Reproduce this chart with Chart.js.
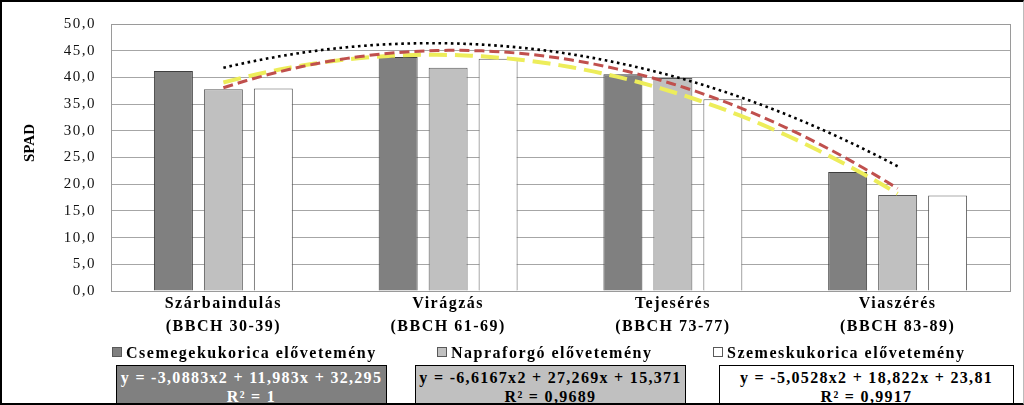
<!DOCTYPE html>
<html>
<head>
<meta charset="utf-8">
<script src="https://cdn.jsdelivr.net/npm/chart.js@4/dist/chart.umd.min.js"></script>
<style>
  html, body { margin:0; padding:0; background:#fff; }
  body { width:1024px; height:405px; overflow:hidden; position:relative; font-family:"Liberation Serif","Times New Roman",serif; }
  .layer { position:absolute; left:0; top:0; width:1024px; height:405px; }
  #frame { position:absolute; left:0; top:0; width:1024px; height:405px; box-sizing:border-box;
           border-left:2px solid #000; border-top:2px solid #000; border-bottom:2px solid #000; border-right:1px solid #bbb;
           pointer-events:none; z-index:10; }
  #ytitle { position:absolute; left:-1px; top:134px; width:60px; height:18px; line-height:18px; text-align:center;
            font-weight:bold; font-size:15px; color:#000; transform:rotate(-90deg); transform-origin:50% 50%; }
  .leg { position:absolute; top:343px; height:20px; font-weight:bold; font-size:16px; letter-spacing:1.5px; line-height:20px; color:#000; white-space:nowrap; }
  .leg i { display:inline-block; width:8px; height:8px; border:1px solid #595959; margin-right:4px; vertical-align:1px; }
  .eq { position:absolute; top:365px; height:50px; box-sizing:border-box; border:1.5px solid #000; text-align:center;
        font-weight:bold; font-size:16px; letter-spacing:1.3px; line-height:19px; padding-top:2px; white-space:nowrap; }
</style>
</head>
<body>
<div class="layer"><canvas id="c" width="1024" height="405"></canvas></div>
<div class="layer"><canvas id="t" width="1024" height="405"></canvas></div>
<div id="ytitle"></div>
<div id="legend"></div>
<div id="frame"></div>
<script>
// ---- data ----
const categories = [["Szárbaindulás","(BBCH 30-39)"],["Virágzás","(BBCH 61-69)"],["Tejesérés","(BBCH 73-77)"],["Viaszérés","(BBCH 83-89)"]];
const seriesNames = ["Csemegekukorica elővetemény","Napraforgó elővetemény","Szemeskukorica elővetemény"];
const csemege = [41.2, 43.8, 40.6, 22.3];
const napraforgo = [37.8, 41.8, 39.9, 18.0];
const szemes = [37.9, 43.5, 35.9, 17.9];
const equations = [["y = -3,0883x2 + 11,983x + 32,295","R² = 1"],["y = -6,6167x2 + 27,269x + 15,371","R² = 0,9689"],["y = -5,0528x2 + 18,822x + 23,81","R² = 0,9917"]];
const yTitle = "SPAD";
const yTicks = { min:0, max:50, step:5 };

// ---- styles ----
const barFill = ["#808080","#c0c0c0","#ffffff"];
const barBorder = ["#3f3f3f","#595959","#595959"];
const trendStyle = [
  { color:"#000000", width:2.6, dash:[2.6,3.6] },
  { color:"#c0504d", width:3, dash:[10,5] },
  { color:"#eded5a", width:4, dash:[18,8] }
];
const AREA = { left:111, top:17, right:14, bottom:114 };

// quadratic least-squares trendline (as the spreadsheet trendline does), x = 1..n
function quadFit(ys){
  const n = ys.length; let S=[0,0,0,0,0], T=[0,0,0];
  for(let i=0;i<n;i++){ const x=i+1, y=ys[i];
    for(let k=0;k<5;k++) S[k]+=Math.pow(x,k);
    for(let k=0;k<3;k++) T[k]+=y*Math.pow(x,k); }
  const M=[[S[4],S[3],S[2],T[2]],[S[3],S[2],S[1],T[1]],[S[2],S[1],S[0],T[0]]];
  for(let i=0;i<3;i++){ for(let j=i+1;j<3;j++){ const f=M[j][i]/M[i][i]; for(let k=i;k<4;k++) M[j][k]-=f*M[i][k]; } }
  const r=[0,0,0];
  for(let i=2;i>=0;i--){ let s=M[i][3]; for(let k=i+1;k<3;k++) s-=M[i][k]*r[k]; r[i]=s/M[i][i]; }
  return r;
}
function trendPoints(ys){
  const [a,b,c]=quadFit(ys); const pts=[];
  for(let x=1;x<=ys.length+1e-9;x+=0.05){ pts.push({x:x, y:a*x*x+b*x+c}); }
  return pts;
}

const allSeries = [csemege, napraforgo, szemes];

const frame = { id:'frame', beforeDatasetsDraw(chart){ const a=chart.chartArea, ctx=chart.ctx;
  ctx.save(); ctx.strokeStyle='#9a9a9a'; ctx.lineWidth=1; ctx.strokeRect(Math.round(a.left)+0.5, Math.round(a.top)+0.5, Math.round(a.right-a.left), Math.round(a.bottom-a.top)); ctx.restore(); } };
const spacing = { id:'spacing',
  beforeLayout(chart){ chart.ctx.letterSpacing='1.5px'; },
  beforeDraw(chart){ chart.ctx.letterSpacing='1.5px'; } };

// bar chart
new Chart(document.getElementById('c'), {
  type:'bar',
  data:{ labels:categories, datasets: allSeries.map((vals,i)=>({
    label:seriesNames[i], data:vals, backgroundColor:barFill[i], borderColor:barBorder[i],
    borderWidth:1, categoryPercentage:0.667, barPercentage:0.78 })) },
  options:{
    responsive:false, animation:false, devicePixelRatio:1,
    layout:{ padding:{ left:0, top:AREA.top, right:AREA.right, bottom:0 }, autoPadding:false },
    plugins:{ legend:{ display:false }, tooltip:{ enabled:false } },
    scales:{
      x:{ type:'category', offset:true,
          grid:{ display:false, drawTicks:false }, border:{ display:true, color:'#9a9a9a' },
          ticks:{ color:'#000', padding:1, maxRotation:0, autoSkip:false,
                  font:{ family:'"Liberation Serif", serif', size:16, weight:'bold', lineHeight:1.45 } },
          afterFit(s){ s.height = AREA.bottom; } },
      y:{ min:yTicks.min, max:yTicks.max,
          grid:{ color:'#a6a6a6', drawTicks:false }, border:{ display:true, color:'#9a9a9a' },
          ticks:{ stepSize:yTicks.step, color:'#111', padding:15,
                  font:{ family:'"Liberation Serif", serif', size:15 },
                  callback:(v)=>v.toFixed(1).replace('.',',') },
          afterFit(s){ s.width = AREA.left; } }
    }
  },
  plugins:[frame, spacing]
});

// trendline overlay with the same plot area (x = category number 1..4)
new Chart(document.getElementById('t'), {
  type:'line',
  data:{ datasets: allSeries.map((vals,i)=>({
    label:'Poly. ('+seriesNames[i]+')', data:trendPoints(vals), borderColor:trendStyle[i].color,
    borderWidth:trendStyle[i].width, borderDash:trendStyle[i].dash, pointRadius:0, fill:false, tension:0 })) },
  options:{
    responsive:false, animation:false, devicePixelRatio:1,
    layout:{ padding:{ left:AREA.left, top:AREA.top, right:AREA.right, bottom:AREA.bottom }, autoPadding:false },
    plugins:{ legend:{ display:false }, tooltip:{ enabled:false } },
    scales:{
      x:{ type:'linear', display:false, min:0.5, max:categories.length+0.5 },
      y:{ type:'linear', display:false, min:yTicks.min, max:yTicks.max }
    }
  }
});

// ---- axis title, legend & equation boxes (HTML text) ----
document.getElementById('ytitle').textContent = yTitle;
const legPos = [112, 437, 713];
const eqPos = [[116,271],[415,271],[719,295]];
const eqFill = ["#808080","#c0c0c0","#ffffff"];
const eqText = ["#ffffff","#000000","#000000"];
const host = document.getElementById('legend');
seriesNames.forEach((name,i)=>{
  const d=document.createElement('div'); d.className='leg'; d.style.left=legPos[i]+'px';
  const m=document.createElement('i'); m.style.background=barFill[i]; d.appendChild(m);
  d.appendChild(document.createTextNode(name)); host.appendChild(d);
  const e=document.createElement('div'); e.className='eq'; e.style.left=eqPos[i][0]+'px'; e.style.width=eqPos[i][1]+'px';
  e.style.background=eqFill[i]; e.style.color=eqText[i];
  e.innerHTML=equations[i].join('<br>'); host.appendChild(e);
});
</script>
</body>
</html>
